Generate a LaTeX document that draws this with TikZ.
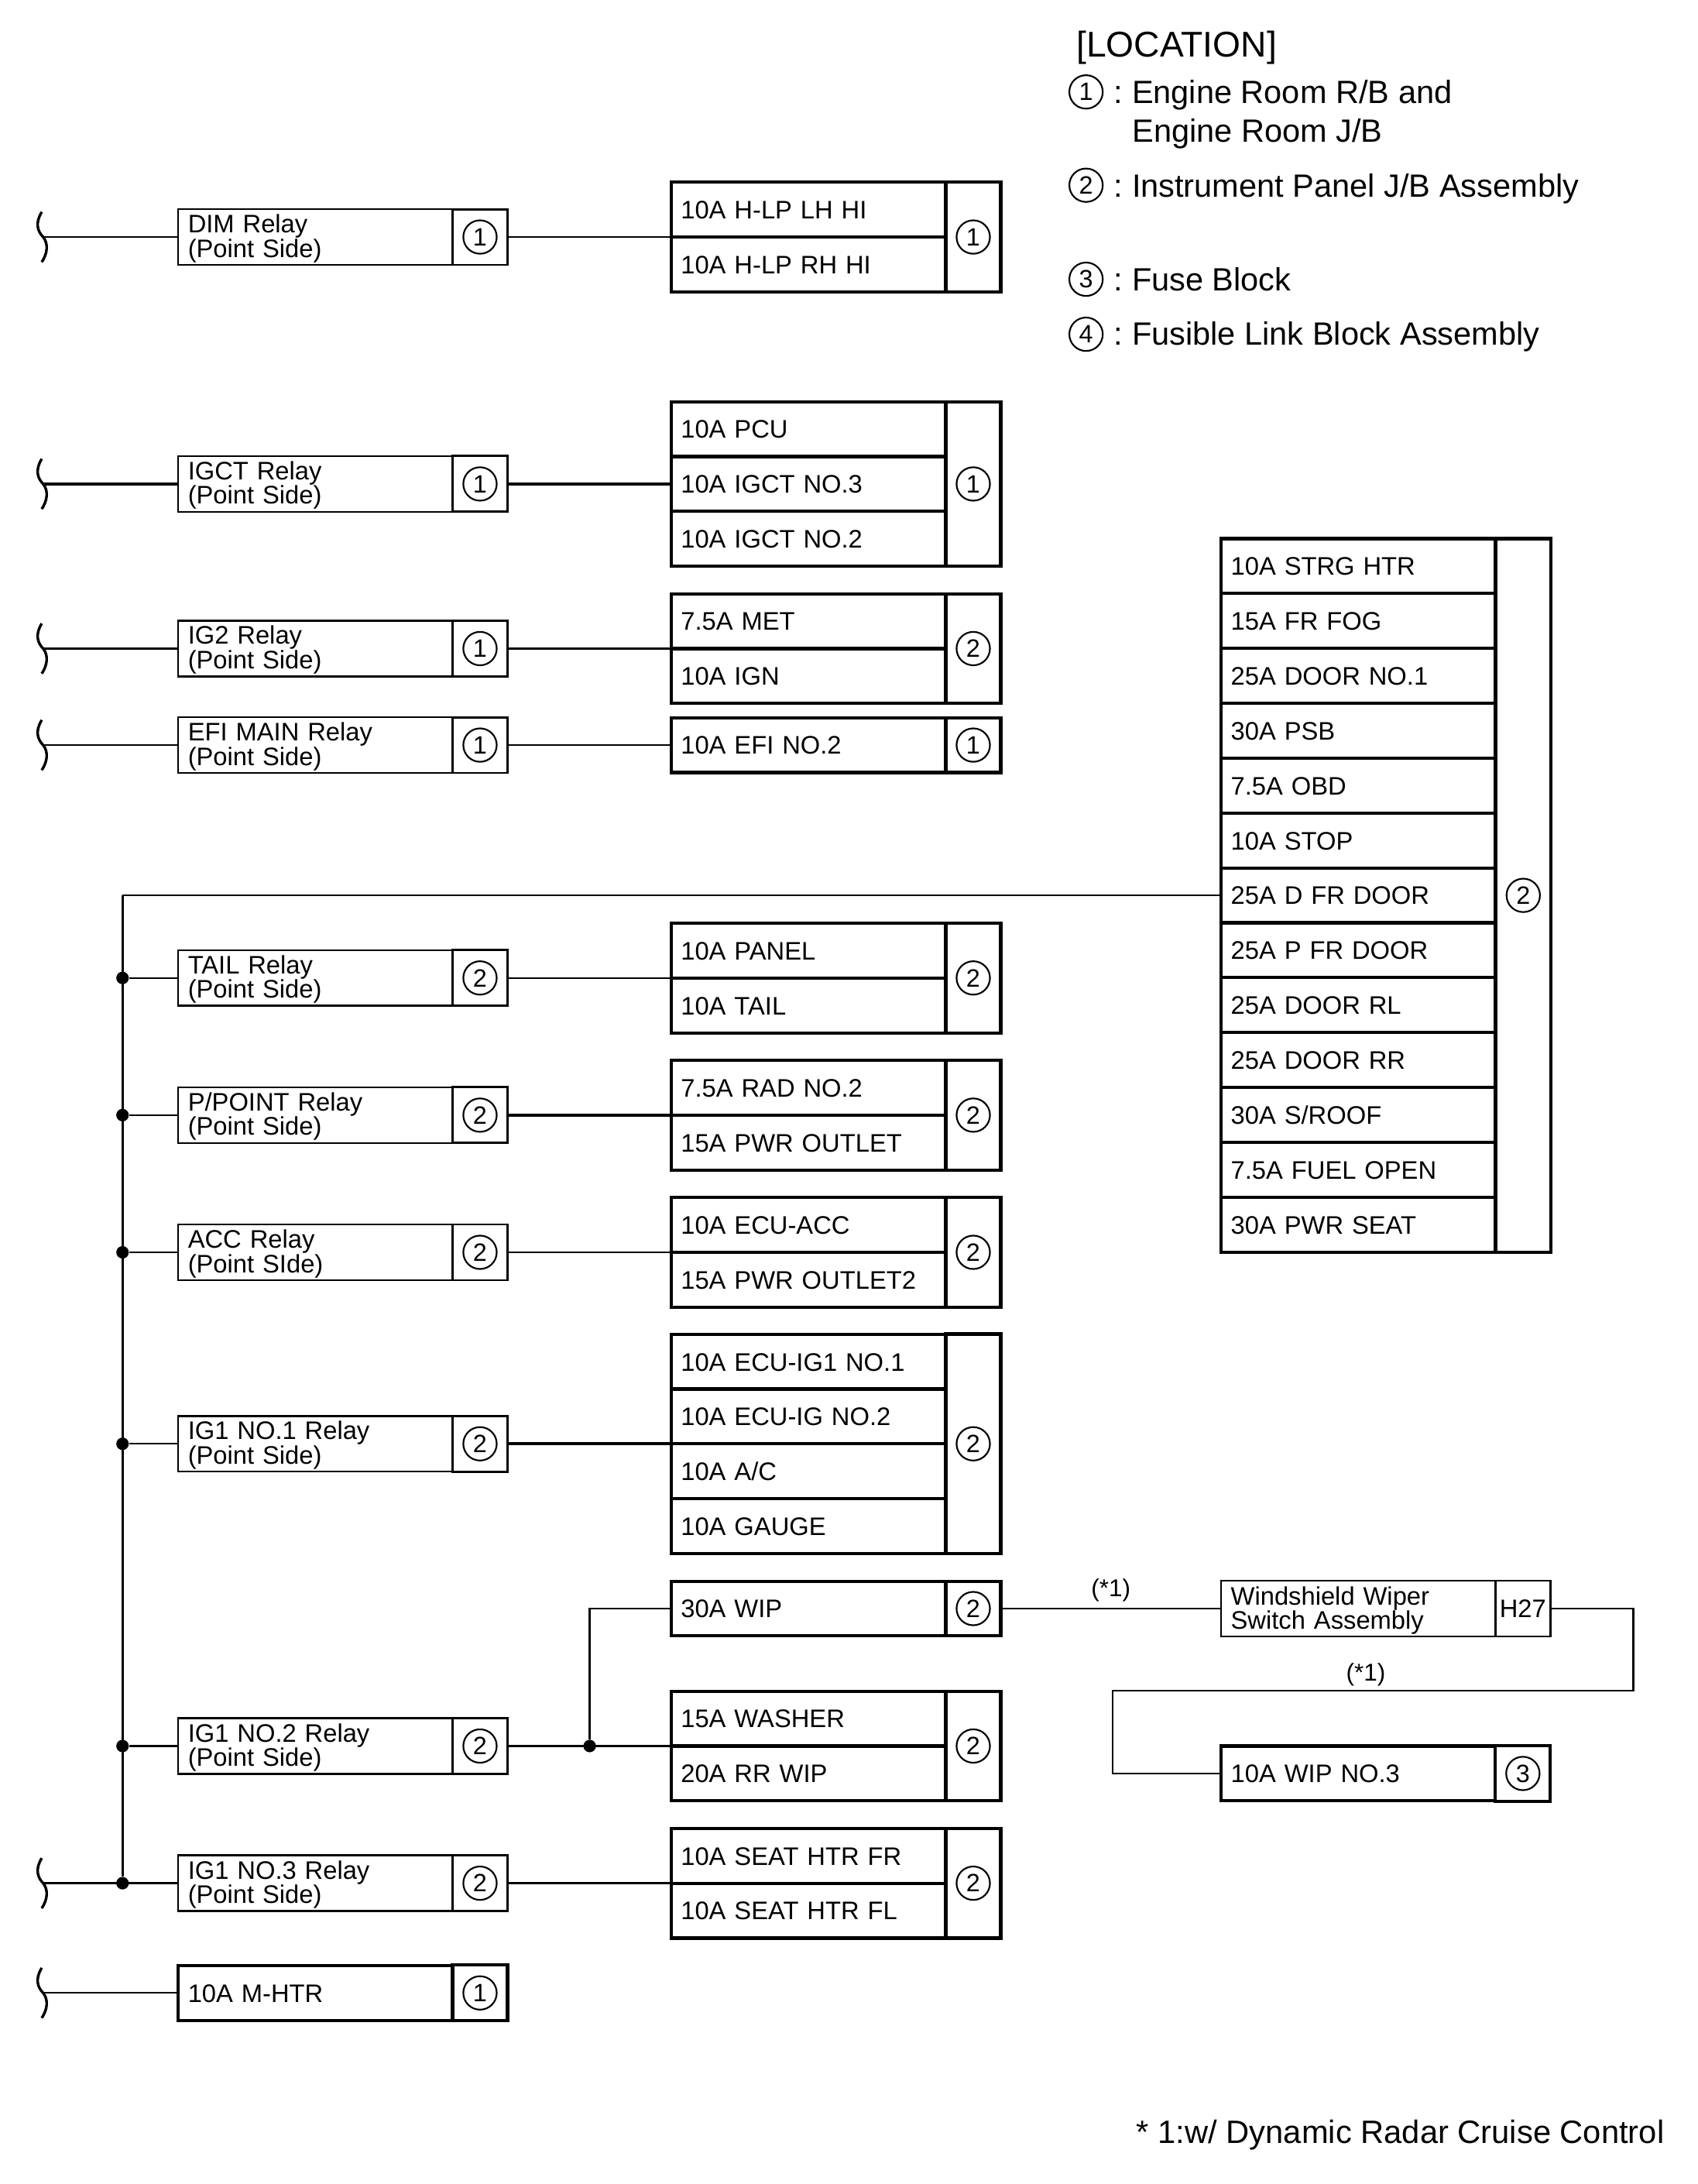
\documentclass[tikz,border=0pt]{standalone}
\usepackage{fontspec}
\setmainfont{Liberation Sans}
\usetikzlibrary{positioning}

\tikzset{
	relaybox/.style = {draw, line width=1.4pt, minimum width=197pt, minimum height=40pt,
		inner sep=0pt, outer sep=0pt, text width=183pt, align=left,
		font=\fontsize{18.2}{17.5}\selectfont},
	fuserow/.style = {draw, line width=2.3pt, minimum width=197pt, minimum height=39.4pt,
		inner ysep=0pt, inner xsep=7pt, outer sep=0pt, text width=183pt, align=left,
		text height=13.2pt, text depth=0pt, font=\fontsize{18.2}{20}\selectfont},
	tagbox/.style = {draw, line width=1.6pt, minimum width=39.5pt, minimum height=40pt,
		inner sep=0pt, outer sep=0pt, font=\fontsize{18.2}{20}\selectfont},
	fusetag/.style = {tagbox, line width=2.3pt},
	numring/.style = {draw, circle, line width=1.2pt, minimum size=24pt, inner sep=0pt,
		font=\fontsize{18}{20}\selectfont},
	legendtext/.style = {anchor=base west, inner sep=0pt, font=\fontsize{23.1}{28}\selectfont},
	wirenote/.style = {inner sep=0pt, font=\fontsize{17.5}{20}\selectfont},
	wire/.style = {line width=1.3pt},
	heavywire/.style = {line width=2pt},
	jdot/.style = {fill, circle, inner sep=0pt, minimum size=9pt},
	wirebreak/.pic = {
		\draw[line width=1.9pt] (-1,-18) .. controls (-6,-10) and (-4,-4) .. (0,0)
			.. controls (4,5) and (3,12) .. (-1,18);
	}
}

\begin{document}
\frenchspacing
\begin{tikzpicture}[x=1pt, y=-1pt]
\useasboundingbox (0,0) rectangle (1219,1568.2);

\foreach \nm/\y/\txt/\num in {
	dim/170.2/{DIM Relay\\(Point Side)}/1,
	igct/347.5/{IGCT Relay\\(Point Side)}/1,
	igtwo/465.7/{IG2 Relay\\(Point Side)}/1,
	efi/535/{EFI MAIN Relay\\(Point Side)}/1,
	tail/702.2/{TAIL Relay\\(Point Side)}/2,
	ppoint/800.7/{P/POINT Relay\\(Point Side)}/2,
	acc/899.2/{ACC Relay\\(Point SIde)}/2,
	igone/1036.7/{IG1 NO.1 Relay\\(Point Side)}/2,
	ignotwo/1253.7/{IG1 NO.2 Relay\\(Point Side)}/2,
	ignothree/1352.2/{IG1 NO.3 Relay\\(Point Side)}/2}
{
	\node[relaybox, text depth=2.5pt] (\nm) at (226.5,\y) {};
	\node[relaybox, draw=none, yshift=-1pt] (\nm Txt) at (\nm) {\txt};
	\node[tagbox, right=0pt of \nm] (\nm Tag) {};
	\node[numring] (\nm Num) at (\nm Tag) {\num};
}

\node[fuserow] (mhtr) at (226.5,1431) {10A M-HTR};
\node[fusetag, right=0pt of mhtr] (mhtrTag) {};
\node[numring] (mhtrNum) at (mhtrTag) {1};

\foreach \nm/\y/\txt in {
	hlpA/150.5/10A H-LP LH HI, hlpB/189.9/10A H-LP RH HI,
	pcu/308.1/10A PCU, igctC/347.5/10A IGCT NO.3, igctB/386.9/10A IGCT NO.2,
	met/446/7.5A MET, ign/485.4/10A IGN,
	efiB/535/10A EFI NO.2,
	panel/682.5/10A PANEL, tailF/721.9/10A TAIL,
	rad/781/7.5A RAD NO.2, outlet/820.4/15A PWR OUTLET,
	ecuacc/879.5/10A ECU-ACC, outletB/918.9/15A PWR OUTLET2,
	ecuA/977.9/10A ECU-IG1 NO.1, ecuB/1017/10A ECU-IG NO.2, ac/1056.4/{10A A/C}, gauge/1095.8/10A GAUGE,
	wip/1155/30A WIP,
	washer/1234/15A WASHER, rrwip/1273.4/20A RR WIP,
	seatA/1332.5/10A SEAT HTR FR, seatB/1371.9/10A SEAT HTR FL}
	\node[fuserow] (\nm) at (580.5,\y) {\txt};

\foreach \nm/\y/\h/\num in {
	hlpTag/170.2/78.8/1, pcuTag/347.5/118.2/1, metTag/465.7/78.8/2, efiTagB/535/39.4/1,
	panelTag/702.2/78.8/2, radTag/800.7/78.8/2, ecuaccTag/899.2/78.8/2, ecuTag/1036.7/157.6/2,
	wipTag/1155/39.4/2, washerTag/1253.7/78.8/2, seatTag/1352.2/78.8/2}
{
	\node[fusetag, minimum height=\h pt] (\nm) at (699,\y) {};
	\node[numring] (\nm Num) at (\nm) {\num};
}

\foreach \nm/\y/\txt in {
	strg/406.5/10A STRG HTR, fog/445.9/15A FR FOG, doorA/485.3/25A DOOR NO.1,
	psb/524.7/30A PSB, obd/564.1/7.5A OBD, stop/603.5/10A STOP,
	dfr/642.9/25A D FR DOOR, pfr/682.3/25A P FR DOOR, doorRL/721.7/25A DOOR RL,
	doorRR/761.1/25A DOOR RR, roof/800.5/{30A S/ROOF}, fuel/839.9/7.5A FUEL OPEN,
	seat/879.3/30A PWR SEAT}
	\node[fuserow] (\nm) at (975.5,\y) {\txt};
\node[fusetag, minimum height=512.2pt] (strgTag) at (1094,642.9) {};
\node[numring] (strgNum) at (strgTag) {2};

\node[relaybox] (wsw) at (975.5,1155) {};
\node[relaybox, draw=none, yshift=-1.5pt] (wswTxt) at (wsw) {Windshield Wiper\\Switch Assembly};
\node[tagbox, right=0pt of wsw] (wswTag) {H27};
\node[fuserow] (wipC) at (975.5,1273.4) {10A WIP NO.3};
\node[fusetag, right=0pt of wipC] (wipCTag) {};
\node[numring] (wipCNum) at (wipCTag) {3};

\foreach \nm/\y in {dim/170.2, igct/347.5, igtwo/465.7, efi/535, ignothree/1352.2, mhtr/1431}
{
	\coordinate (\nm Brk) at (31,\y);
	\pic at (\nm Brk) {wirebreak};
}
\draw[wire] (dimBrk) -- (dim);
\draw[heavywire] (igctBrk) -- (igct);
\draw[heavywire] (igtwoBrk) -- (igtwo);
\draw[wire] (efiBrk) -- (efi);
\draw[wire] (ignothreeBrk) -- (ignothree);
\draw[wire] (mhtrBrk) -- (mhtr);

\coordinate (busTop) at (88,642.9);
\foreach \nm/\y in {tail/702.2, ppoint/800.7, acc/899.2, igone/1036.7, ignotwo/1253.7, ignothree/1352.2}
{
	\node[jdot] (\nm Dot) at (88,\y) {};
	\draw[wire] (\nm Dot) -- (\nm);
}
\draw[line width=1.6pt] (busTop) -- (ignothreeDot);
\draw[wire] (busTop) -- (dfr);

\draw[wire] (dimTag) -- (hlpA.south west);
\draw[heavywire] (igctTag) -- (igctC);
\draw[wire] (igtwoTag) -- (met.south west);
\draw[wire] (efiTag) -- (efiB);
\draw[wire] (tailTag) -- (panel.south west);
\draw[heavywire] (ppointTag) -- (rad.south west);
\draw[wire] (accTag) -- (ecuacc.south west);
\draw[heavywire] (igoneTag) -- (ecuB.south west);
\draw[wire] (ignothreeTag) -- (seatA.south west);

\node[jdot] (wipDot) at (423.5,1253.7) {};
\draw[wire] (ignotwoTag) -- (washer.south west);
\draw[wire] (wipDot) |- (wip);

\coordinate (wswTurn) at (1173,1155);
\coordinate (backTurn) at (799,1214);
\draw[wire] (wipTag) -- node[wirenote, above=4.5pt] (noteA) {(*1)} (wsw);
\draw[wire] (wswTag) -- (wswTurn) |- (backTurn) |- (wipC);
\node[wirenote] (noteB) at (981,1202.5) {(*1)};

\node[inner sep=0pt, anchor=base west, font=\fontsize{25.7}{28}\selectfont] (locHead) at (773,41) {[LOCATION]};
\foreach \nm/\y/\num in {legA/66/1, legB/133/2, legC/200.5/3, legD/240/4}
	\node[numring] (\nm) at (780,\y) {\num};
\node[legendtext] (legAtxt) at (800,74) {: Engine Room R/B and};
\node[legendtext] (legAtwo) at (813,102) {Engine Room J/B};
\node[legendtext] (legBtxt) at (800,141.5) {: Instrument Panel J/B Assembly};
\node[legendtext] (legCtxt) at (800,209) {: Fuse Block};
\node[legendtext] (legDtxt) at (800,248) {: Fusible Link Block Assembly};

\node[legendtext, anchor=base east, font=\fontsize{23.2}{28}\selectfont] (footnote) at (1195.5,1539) {* 1:w/ Dynamic Radar Cruise Control};
\end{tikzpicture}
\end{document}
